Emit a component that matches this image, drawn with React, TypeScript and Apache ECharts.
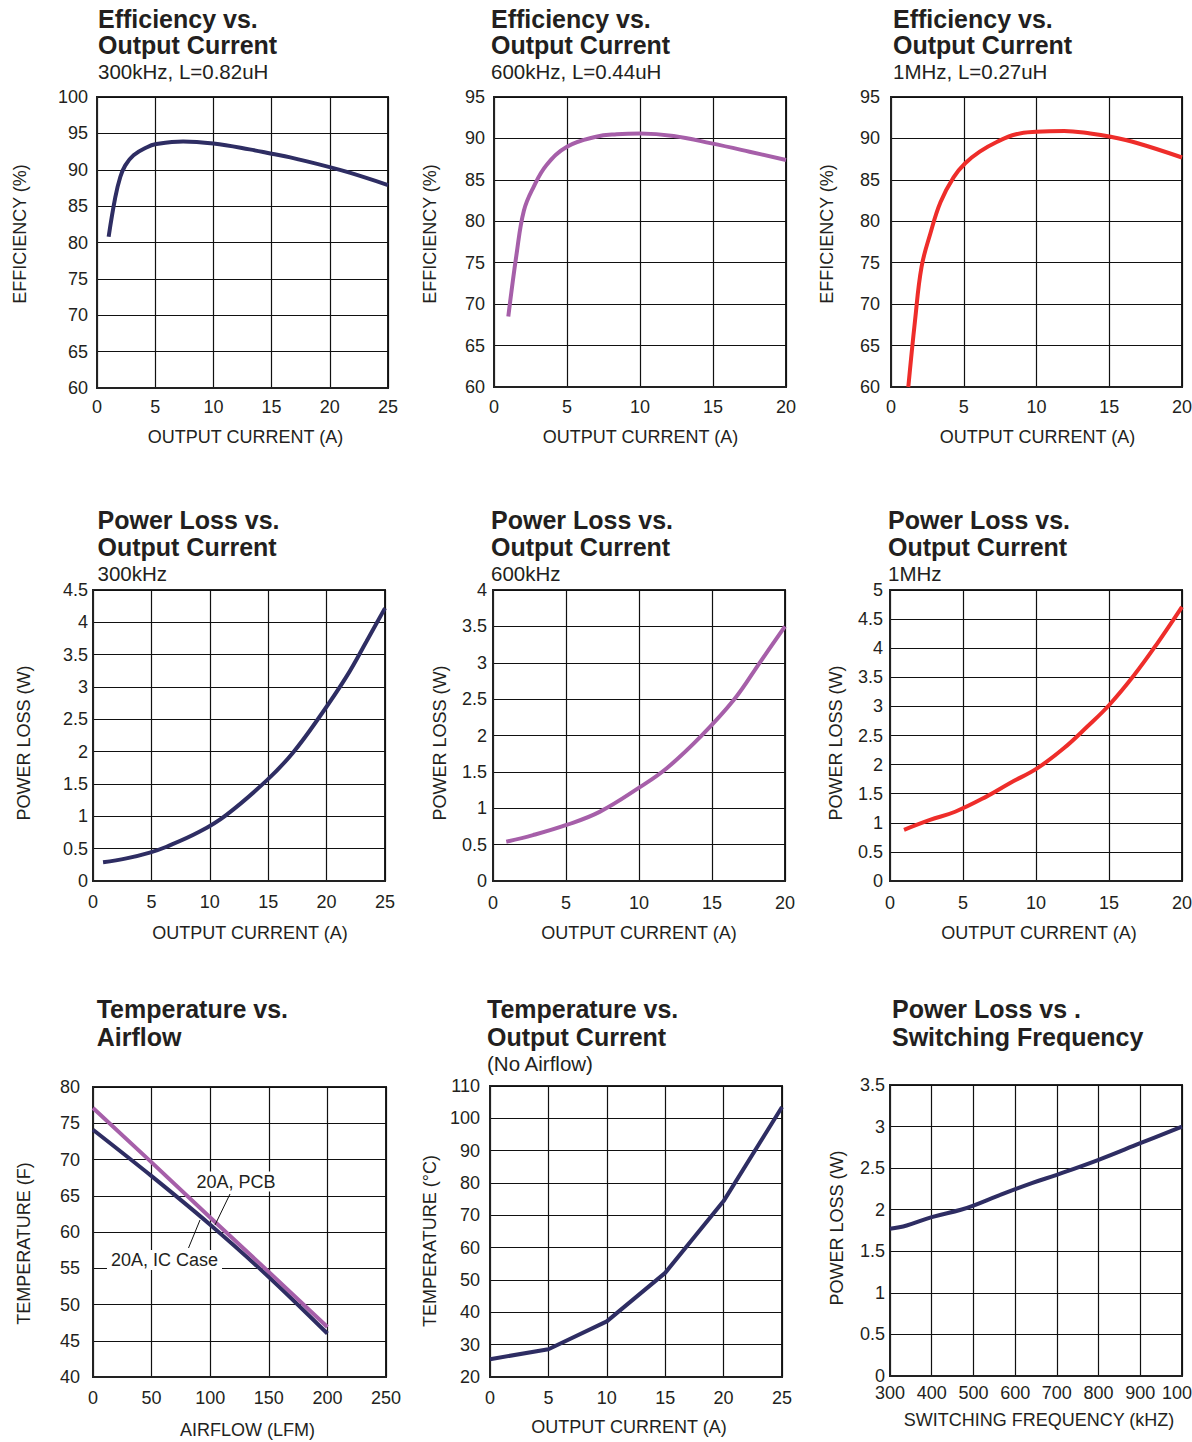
import React, { useEffect, useRef } from "react";
import * as echarts from "echarts";

// ---------- DATA ----------
const eff300X = [1.0, 1.57, 2.0, 2.43, 3.14, 4.3, 5, 7.4, 10, 13.1, 15, 16.6, 19.9, 21.7, 25];
const eff300Y = [80.8, 86.2, 89.0, 90.6, 92.0, 93.1, 93.5, 93.9, 93.6, 92.8, 92.2, 91.7, 90.4, 89.6, 87.9];

const eff600X = [0.98, 1.55, 2.05, 2.7, 3.6, 5, 7, 8.4, 10, 12.3, 14.9, 17.5, 20];
const eff600Y = [68.5, 76.1, 81.3, 84.1, 86.8, 89.0, 90.2, 90.5, 90.6, 90.3, 89.4, 88.4, 87.4];

const eff1MX = [1.19, 1.65, 2.1, 2.7, 3.4, 4.3, 5.1, 6.1, 7.3, 8.6, 10, 11.9, 13.7, 15.1, 16.9, 20];
const eff1MY = [60, 68, 74.5, 78.5, 82.3, 85.3, 87.0, 88.4, 89.6, 90.5, 90.8, 90.9, 90.6, 90.2, 89.45, 87.7];

const loss300X = [0.86, 2.86, 4.86, 6.3, 9.1, 11.4, 14.9, 17.1, 19.4, 21.7, 23.4, 25];
const loss300Y = [0.29, 0.35, 0.44, 0.53, 0.76, 1.02, 1.56, 1.98, 2.54, 3.16, 3.7, 4.22];

const loss600X = [0.91, 2.74, 5.03, 7.3, 10.06, 11.9, 14.2, 16.5, 18.3, 20];
const loss600Y = [0.54, 0.63, 0.77, 0.95, 1.29, 1.55, 1.98, 2.49, 3.01, 3.5];

const loss1MX = [0.96, 2.74, 4.46, 6.6, 8.2, 10.1, 11.9, 13.5, 15, 16.7, 18.3, 20];
const loss1MY = [0.88, 1.05, 1.19, 1.45, 1.68, 1.94, 2.28, 2.65, 3.02, 3.53, 4.08, 4.71];

const airflowX = [0, 50, 100, 150, 200];
const tempPcbY = [77.1, 69.6, 62.0, 54.5, 46.9];
const tempIcY = [74.1, 67.7, 61.0, 53.8, 46.0];

const tempCurX = [0, 5, 10, 15, 20, 25];
const tempCurY = [25.5, 28.6, 37.2, 52.2, 74.4, 103.5];

const freqX = [300, 340, 400, 470, 500, 560, 640, 700, 800, 900, 1000];
const lossFreqY = [1.77, 1.81, 1.91, 2.0, 2.05, 2.17, 2.32, 2.42, 2.6, 2.8, 3.0];

const titleTexts = [
  ["Efficiency vs.", "Output Current", "300kHz, L=0.82uH"],
  ["Efficiency vs.", "Output Current", "600kHz, L=0.44uH"],
  ["Efficiency vs.", "Output Current", "1MHz, L=0.27uH"],
  ["Power Loss vs.", "Output Current", "300kHz"],
  ["Power Loss vs.", "Output Current", "600kHz"],
  ["Power Loss vs.", "Output Current", "1MHz"],
  ["Temperature vs.", "Airflow"],
  ["Temperature vs.", "Output Current", "(No Airflow)"],
  ["Power Loss vs .", "Switching Frequency"],
];
const yNames = [
  "EFFICIENCY (%)", "EFFICIENCY (%)", "EFFICIENCY (%)",
  "POWER LOSS (W)", "POWER LOSS (W)", "POWER LOSS (W)",
  "TEMPERATURE (F)", "TEMPERATURE (°C)", "POWER LOSS (W)",
];
const xNames = [
  "OUTPUT CURRENT (A)", "OUTPUT CURRENT (A)", "OUTPUT CURRENT (A)",
  "OUTPUT CURRENT (A)", "OUTPUT CURRENT (A)", "OUTPUT CURRENT (A)",
  "AIRFLOW (LFM)", "OUTPUT CURRENT (A)", "SWITCHING FREQUENCY (kHZ)",
];
const xRanges = [[0, 25, 5], [0, 20, 5], [0, 20, 5], [0, 25, 5], [0, 20, 5], [0, 20, 5], [0, 250, 50], [0, 25, 5], [300, 1000, 100]];
const yRanges = [[60, 100, 5], [60, 95, 5], [60, 95, 5], [0, 4.5, 0.5], [0, 4, 0.5], [0, 5, 0.5], [40, 80, 5], [20, 110, 10], [0, 3.5, 0.5]];
const pcbLabel = "20A, PCB";
const icLabel = "20A, IC Case";

// ---------- LAYOUT / STYLE ----------
const FONT = "'Liberation Sans', Arial, Helvetica, sans-serif";
const TXT = "#231f20";
const NAVY = "#2e2d63";
const PURPLE = "#a65fa9";
const RED = "#ee2d2a";

const grids = [
  { left: 97, top: 97, width: 291, height: 291 },
  { left: 494, top: 97, width: 292, height: 290 },
  { left: 891, top: 97, width: 291, height: 290 },
  { left: 93, top: 590, width: 292, height: 291 },
  { left: 493, top: 590, width: 292, height: 291 },
  { left: 890, top: 590, width: 292, height: 291 },
  { left: 93, top: 1087, width: 293, height: 290 },
  { left: 490, top: 1086, width: 292, height: 291 },
  { left: 890, top: 1085, width: 292, height: 291 },
];
const titlePos = [
  { x: 98, ys: [18.7, 45, 71.7] },
  { x: 491, ys: [18.7, 45, 71.7] },
  { x: 893, ys: [18.7, 45, 71.7] },
  { x: 97.5, ys: [519.5, 546.5, 573] },
  { x: 491, ys: [519.5, 546.5, 573] },
  { x: 888, ys: [519.5, 546.5, 573] },
  { x: 96.7, ys: [1008.7, 1036.5] },
  { x: 487, ys: [1008.7, 1036.5, 1063] },
  { x: 892, ys: [1008.7, 1036.5] },
];
const yNamePos = [[19.5, 234], [430, 234], [827, 234], [24, 743], [440, 743], [835.5, 743], [24, 1243.5], [430, 1241], [836.5, 1228]];
const xNamePos = [[245.5, 437], [640.5, 437], [1037.5, 437], [250, 933], [639, 933], [1039, 933], [247.5, 1430], [629, 1426.7], [1039, 1420]];
const yLabelMargin = [9, 9, 11, 5, 6, 7, 13, 10, 5];
const xLabelMargin = [10, 11, 11, 12, 13, 13, 12, 12, 8];

const zip = (xs: number[], ys: number[]) => xs.map((x, i) => [x, ys[i]]);
const plain = (v: number) => String(v);

function buildOption() {
  const labelStyle = { color: TXT, fontSize: 18, fontFamily: FONT, formatter: plain };
  const axisLine = { show: true, onZero: false, lineStyle: { color: "#222", width: 2 } };
  const splitLine = { show: true, lineStyle: { color: "#111", width: 1.2 } };

  const xAxis = xRanges.map((r, i) => ({
    type: "value", gridIndex: i, min: r[0], max: r[1], interval: r[2],
    axisLine, axisTick: { show: false }, splitLine,
    axisLabel: { ...labelStyle, margin: xLabelMargin[i] },
  }));
  const yAxis = yRanges.map((r, i) => ({
    type: "value", gridIndex: i, min: r[0], max: r[1], interval: r[2],
    axisLine, axisTick: { show: false }, splitLine,
    axisLabel: { ...labelStyle, margin: yLabelMargin[i] },
  }));

  const mk = (i: number, data: number[][], color: string, smooth: number | boolean) => ({
    type: "line", xAxisIndex: i, yAxisIndex: i, data, smooth,
    symbol: "none", showSymbol: false, clip: true,
    lineStyle: { color, width: 4, cap: "butt" }, z: 3,
  });

  const series = [
    mk(0, zip(eff300X, eff300Y), NAVY, 0.4),
    mk(1, zip(eff600X, eff600Y), PURPLE, 0.4),
    mk(2, zip(eff1MX, eff1MY), RED, 0.4),
    mk(3, zip(loss300X, loss300Y), NAVY, 0.4),
    mk(4, zip(loss600X, loss600Y), PURPLE, 0.4),
    mk(5, zip(loss1MX, loss1MY), RED, 0.4),
    mk(6, zip(airflowX, tempIcY), NAVY, 0.3),
    mk(6, zip(airflowX, tempPcbY), PURPLE, false),
    mk(7, zip(tempCurX, tempCurY), NAVY, false),
    mk(8, zip(freqX, lossFreqY), NAVY, 0.4),
  ];

  const graphic: any[] = [];
  titleTexts.forEach((lines, i) => {
    lines.forEach((t, j) => {
      const isSub = j === 2;
      graphic.push({
        type: "text", x: titlePos[i].x, y: titlePos[i].ys[j], silent: true,
        style: {
          text: t, fill: TXT,
          font: isSub ? `normal 20.5px ${FONT}` : `bold 25px ${FONT}`,
          align: "left", verticalAlign: "middle",
          textAlign: "left", textVerticalAlign: "middle",
        },
      });
    });
  });
  yNames.forEach((t, i) => {
    graphic.push({
      type: "text", x: yNamePos[i][0], y: yNamePos[i][1], rotation: Math.PI / 2, silent: true,
      style: {
        text: t, fill: TXT, font: `normal 18px ${FONT}`,
        align: "center", verticalAlign: "middle", textAlign: "center", textVerticalAlign: "middle",
      },
    });
  });
  xNames.forEach((t, i) => {
    graphic.push({
      type: "text", x: xNamePos[i][0], y: xNamePos[i][1], silent: true,
      style: {
        text: t, fill: TXT, font: `normal 18px ${FONT}`,
        align: "center", verticalAlign: "middle", textAlign: "center", textVerticalAlign: "middle",
      },
    });
  });
  // annotations in Temperature vs Airflow
  graphic.push({
    type: "text", x: 236, y: 1181.5, z: 10, silent: true,
    style: {
      text: pcbLabel, fill: TXT, font: `normal 18px ${FONT}`,
      align: "center", verticalAlign: "middle", textAlign: "center", textVerticalAlign: "middle",
      backgroundColor: "#fff", padding: [1, 3, 1, 3],
    },
  });
  graphic.push({
    type: "text", x: 164.5, y: 1260, z: 10, silent: true,
    style: {
      text: icLabel, fill: TXT, font: `normal 18px ${FONT}`,
      align: "center", verticalAlign: "middle", textAlign: "center", textVerticalAlign: "middle",
      backgroundColor: "#fff", padding: [1, 4, 1, 4],
    },
  });
  graphic.push({
    type: "line", z: 10, silent: true,
    shape: { x1: 230, y1: 1194, x2: 215, y2: 1225 },
    style: { stroke: "#111", lineWidth: 1 },
  });
  graphic.push({
    type: "line", z: 10, silent: true,
    shape: { x1: 188.5, y1: 1248, x2: 200, y2: 1220 },
    style: { stroke: "#111", lineWidth: 1 },
  });

  return {
    animation: false,
    backgroundColor: "#ffffff",
    textStyle: { fontFamily: FONT },
    grid: grids.map((g) => ({
      ...g, show: true, borderColor: "#222", borderWidth: 2, backgroundColor: "transparent",
      containLabel: false, outerBoundsMode: "none",
    })),
    xAxis, yAxis, series, graphic,
  };
}

export default function App() {
  const ref = useRef<HTMLDivElement>(null);
  useEffect(() => {
    if (!ref.current) return;
    const chart = echarts.init(ref.current, null, { renderer: "svg" });
    chart.setOption(buildOption() as any);
    return () => chart.dispose();
  }, []);
  return (
    <div
      ref={ref}
      style={{ position: "absolute", left: 0, top: 0, width: 1192, height: 1442, background: "#fff" }}
    />
  );
}
